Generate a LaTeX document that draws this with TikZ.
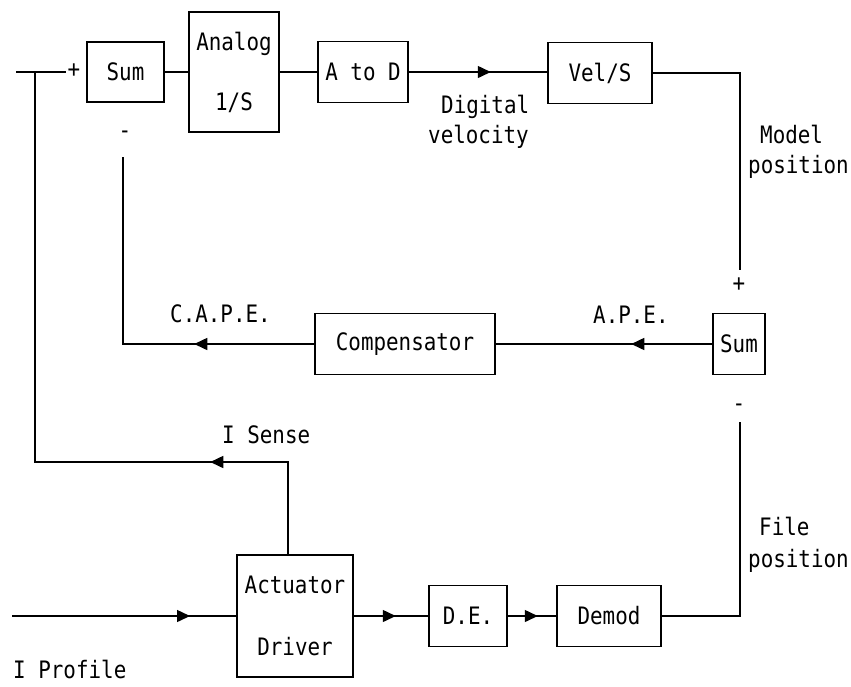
\documentclass[tikz,border=0pt]{standalone}
\usepackage{fontspec}
\newfontfamily\diafont[FakeStretch=0.87]{DejaVu Sans Mono}
\usetikzlibrary{arrows.meta,decorations.markings}
\begin{document}
\begin{tikzpicture}[x=1pt,y=-1pt,
  line/.style={line width=1.5pt},
  blk/.style={draw, line width=1.5pt, inner sep=0pt, align=center,
              font=\diafont\fontsize{24}{24}\selectfont},
  lbl/.style={inner sep=0pt, anchor=base west, font=\diafont\fontsize{24}{24}\selectfont},
  sgn/.style={inner sep=0pt, font=\diafont\fontsize{24}{24}\selectfont},
  midarrow/.style={decoration={markings, mark=at position #1 with {\arrow{Triangle[length=13pt,width=12pt]}}}, postaction={decorate}}
]
\useasboundingbox (0,0) rectangle (851,686);

% blocks
\node[blk, minimum width=77pt, minimum height=60pt] (sum1) at (125.5,72) {Sum};
\node[blk, minimum width=90pt, minimum height=120pt] (analog) at (234,72) {Analog\\[36pt]1/S};
\node[blk, minimum width=90pt, minimum height=61pt] (atod) at (363,72) {A to D};
\node[blk, minimum width=104pt, minimum height=61pt] (vels) at (600,73) {Vel/S};
\node[blk, minimum width=52pt, minimum height=61pt] (sum2) at (739,344) {Sum};
\node[blk, minimum width=180pt, minimum height=61pt] (comp) at (405,344) {Compensator};
\node[blk, minimum width=116pt, minimum height=122pt] (act) at (295,616) {Actuator\\[38pt]Driver};
\node[blk, minimum width=78pt, minimum height=61pt] (de) at (468,616) {D.E.};
\node[blk, minimum width=104pt, minimum height=61pt] (demod) at (609,616) {Demod};

% coordinates for free ends
\coordinate (inL) at (16,72);
\coordinate (inR) at (66,72);
\coordinate (j1) at (35,72);
\coordinate (j2) at (35,462);
\coordinate (mp) at (740,270);
\coordinate (fp) at (740,422);
\coordinate (capeEnd) at (123,157);
\coordinate (ip) at (12,616);

% connectors
\draw[line] (inL) -- (inR);
\draw[line] (sum1.east) -- (sum1.east -| analog.west);
\draw[line] (analog.east |- atod.west) -- (atod.west);
\draw[line, midarrow=82pt] (atod.east) -- (atod.east -| vels.west);
\draw[line] (vels.east) -| (mp);
\draw[line, midarrow=81pt] (sum2.west) -- (comp.east);
\draw[line, midarrow=120pt] (comp.west) -| (capeEnd);
\draw[line] (demod.east) -| (fp);
\draw[line, midarrow=170pt] ([xshift=-7pt]act.north) |- (j2) -- (j1);
\draw[line, midarrow=178pt] (ip) -- (act.west);
\draw[line, midarrow=42pt] (act.east) -- (de.west);
\draw[line, midarrow=30pt] (de.east) -- (demod.west);

% signs
\node[sgn] (p1) at (74,71) {+};
\node[sgn] (m1) at (125,135) {-};
\node[sgn] (p2) at (739,285) {+};
\node[sgn] (m2) at (739,408) {-};

% labels
\node[lbl] (dig1) at (441,113) {Digital};
\node[lbl] (dig2) at (428,143) {velocity};
\node[lbl] (mod1) at (760,143) {Model};
\node[lbl] (mod2) at (748,173) {position};
\node[lbl] (cape) at (170,322) {C.A.P.E.};
\node[lbl] (ape) at (593,323) {A.P.E.};
\node[lbl] (isense) at (222,443) {I Sense};
\node[lbl] (file1) at (759,535) {File};
\node[lbl] (file2) at (748,567) {position};
\node[lbl] (iprof) at (13,678) {I Profile};
\end{tikzpicture}
\end{document}
